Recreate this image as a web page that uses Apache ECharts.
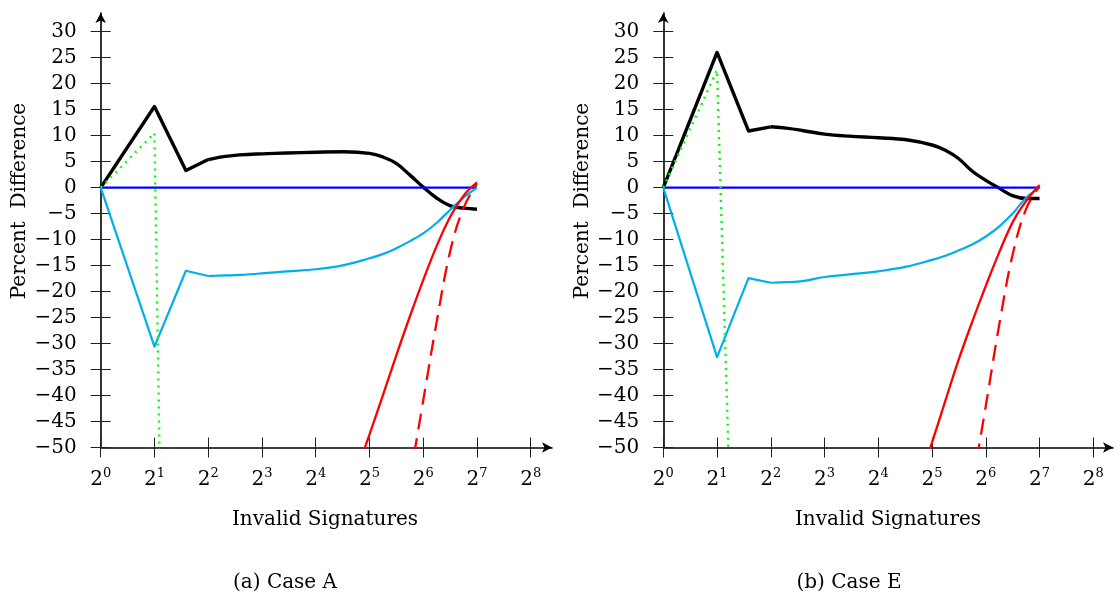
<!DOCTYPE html>
<html><head><meta charset="utf-8">
<script src="https://cdn.jsdelivr.net/npm/echarts@6/dist/echarts.min.js"></script>
<style>html,body{margin:0;padding:0;background:#fff}#c{width:1120px;height:601px}</style>
</head><body><div id="c"></div>
<script>
// ---------- data ----------
const xTickExponents = [0, 1, 2, 3, 4, 5, 6, 7, 8];
const yMin = -50, yMax = 30, yStep = 5;
const panelTitles = ['(a) Case A', '(b) Case E'];
const xLabel = 'Invalid Signatures';
const yLabel = 'Percent  Difference';

// Case A
const caseA_black = [[1,0],[2,15.6],[3,3.3],[4,5.4],[5,6.0],[6,6.3],[8,6.5],[11,6.65],[16,6.8],[23,6.9],[32,6.6],[38,5.9],[45,4.7],[54,2.4],[64,0.1],[76,-2.0],[91,-3.5],[108,-3.95],[128,-4.15]];
const caseA_cyan  = [[1,0],[2,-30.6],[3,-16.0],[4,-17.0],[5,-16.9],[6,-16.8],[8,-16.5],[11,-16.1],[16,-15.7],[23,-14.9],[32,-13.6],[38,-12.8],[45,-11.7],[54,-10.3],[64,-8.8],[76,-6.8],[91,-4.2],[108,-1.9],[128,0]];
const caseA_blue  = [[1,0],[128,0]];
const caseA_green = [[1,0],[2,10.5],[3,-370]];
const caseA_red   = [[28,-53.2],[32,-47.5],[38,-40],[45,-32.5],[54,-24.7],[64,-17.8],[76,-11.3],[91,-5.5],[108,-1.5],[128,1.0]];
const caseA_redDash = [[54,-56],[64,-41],[76,-26],[91,-12],[108,-3.8],[128,0.8]];

// Case E
const caseE_black = [[1,0],[2,26.0],[3,10.9],[4,11.7],[5,11.4],[6,11.0],[8,10.3],[11,9.9],[16,9.6],[23,9.2],[32,8.2],[38,7.2],[45,5.6],[54,3.1],[64,1.4],[76,-0.1],[91,-1.6],[108,-2.1],[128,-2.1]];
const caseE_cyan  = [[1,0],[2,-32.6],[3,-17.4],[4,-18.3],[5,-18.2],[6,-18.0],[8,-17.2],[11,-16.7],[16,-16.1],[23,-15.2],[32,-13.9],[38,-13.1],[45,-12.1],[54,-10.9],[64,-9.4],[76,-7.5],[91,-4.9],[108,-1.9],[128,0]];
const caseE_blue  = [[1,0],[128,0]];
const caseE_green = [[1,0],[2,22.6],[3,-180]];
const caseE_red   = [[28,-54.9],[32,-49],[38,-41],[45,-33.2],[54,-25.6],[64,-18.9],[76,-12.5],[91,-6.5],[108,-2.5],[128,0.5]];
const caseE_redDash = [[54,-57],[64,-42],[76,-26.5],[91,-12.5],[108,-4],[128,0.3]];

const panels = [
  {black: caseA_black, cyan: caseA_cyan, blue: caseA_blue, green: caseA_green, red: caseA_red, redDash: caseA_redDash},
  {black: caseE_black, cyan: caseE_cyan, blue: caseE_blue, green: caseE_green, red: caseE_red, redDash: caseE_redDash}
];
// index of the last sharp corner (x = 4); after it the curves are smooth
const cornerEnd = 3;

// ---------- layout ----------
const W = 1120, H = 601;
const FONT = 'DejaVu Serif';
const plotTop = 31.7, plotBottom = 447.5;
const panelLeft = [100.7, 663.3];
const panelWidth = 430;
const arrowRight = [552, 1113];
const arrowTop = 13;

const xMin = Math.pow(2, xTickExponents[0]);
const xMax = Math.pow(2, xTickExponents[xTickExponents.length - 1]);

const grid = [], xAxis = [], yAxis = [], series = [], graphic = [];

function yFmt(v) { return v < 0 ? '\u2212' + (-v) : String(v); }

panels.forEach((p, i) => {
  const gA = grid.length;
  grid.push({left: panelLeft[i], width: panelWidth, top: plotTop, height: plotBottom - plotTop, containLabel: false});
  const gB = grid.length;
  grid.push({left: panelLeft[i], width: arrowRight[i] - panelLeft[i], top: arrowTop, height: plotBottom - arrowTop, containLabel: false});

  const xBase = {type: 'log', logBase: 2, min: xMin, max: xMax, gridIndex: gA, position: 'bottom',
    axisLine: {show: false, onZero: false}, splitLine: {show: false}, minorTick: {show: false}};
  const xMain = xAxis.length;
  xAxis.push(Object.assign({}, xBase, {
    axisTick: {show: true, inside: false, length: 10, lineStyle: {color: '#222', width: 1}},
    axisLabel: {show: true, margin: 20, fontFamily: FONT, color: '#000',
      formatter: v => '{b|2}{s|' + Math.round(Math.log2(v)) + '}',
      rich: {b: {fontFamily: FONT, fontSize: 20, color: '#000'},
             s: {fontFamily: FONT, fontSize: 13, color: '#000', padding: [0, 0, 12, 0]}}}
  }));
  xAxis.push(Object.assign({}, xBase, {
    axisTick: {show: true, inside: true, length: 10, lineStyle: {color: '#222', width: 1}},
    axisLabel: {show: false}
  }));
  const yBase = {type: 'value', min: yMin, max: yMax, interval: yStep, gridIndex: gA, position: 'left',
    axisLine: {show: false, onZero: false}, splitLine: {show: false}};
  const yMain = yAxis.length;
  yAxis.push(Object.assign({}, yBase, {
    axisTick: {show: true, inside: false, length: 10, lineStyle: {color: '#222', width: 1}},
    axisLabel: {show: true, margin: 24, fontFamily: FONT, fontSize: 20, color: '#000', formatter: yFmt}
  }));
  yAxis.push(Object.assign({}, yBase, {
    axisTick: {show: true, inside: true, length: 10, lineStyle: {color: '#222', width: 1}},
    axisLabel: {show: false}
  }));
  // arrow axes
  xAxis.push({type: 'value', min: 0, max: 1, gridIndex: gB, position: 'bottom',
    axisLine: {show: true, onZero: false, symbol: ['none', 'arrow'], symbolSize: [8, 10], lineStyle: {color: '#000', width: 1.6}},
    axisTick: {show: false}, axisLabel: {show: false}, splitLine: {show: false}});
  yAxis.push({type: 'value', min: 0, max: 1, gridIndex: gB, position: 'left',
    axisLine: {show: true, onZero: false, symbol: ['none', 'arrow'], symbolSize: [8, 10], lineStyle: {color: '#000', width: 1.6}},
    axisTick: {show: false}, axisLabel: {show: false}, splitLine: {show: false}});

  const common = {type: 'line', xAxisIndex: xMain, yAxisIndex: yMain, showSymbol: false, symbol: 'none',
    clip: true, animation: false, silent: true};
  const blackStyle = {color: '#000000', width: 3.4, join: 'round'};
  const cyanStyle = {color: '#00aeef', width: 2.2, join: 'round'};
  series.push(Object.assign({}, common, {data: p.black.slice(0, cornerEnd + 1), lineStyle: blackStyle, z: 2}));
  series.push(Object.assign({}, common, {data: p.black.slice(cornerEnd), smooth: 0.4, lineStyle: blackStyle, z: 2}));
  series.push(Object.assign({}, common, {data: p.blue, lineStyle: {color: '#0000ff', width: 2.4}, z: 3}));
  series.push(Object.assign({}, common, {data: p.cyan.slice(0, cornerEnd + 1), lineStyle: cyanStyle, z: 4}));
  series.push(Object.assign({}, common, {data: p.cyan.slice(cornerEnd), smooth: 0.4, lineStyle: cyanStyle, z: 4}));
  series.push(Object.assign({}, common, {data: p.green, lineStyle: {color: '#00ff00', width: 2.4, type: [2, 5]}, z: 5}));
  series.push(Object.assign({}, common, {data: p.red, smooth: 0.4, lineStyle: {color: '#ff0000', width: 2.3}, z: 6}));
  series.push(Object.assign({}, common, {data: p.redDash, smooth: 0.4, lineStyle: {color: '#ff0000', width: 2.3, type: [16, 9]}, z: 6}));
});

// texts
const yLabelX = [20, 583];
const xLabelX = [325, 888];
const captionX = [285, 849];
[0, 1].forEach(i => {
  graphic.push({type: 'text', x: yLabelX[i], y: 201, rotation: Math.PI / 2,
    style: {text: yLabel, font: '20px "' + FONT + '"', fill: '#000', align: 'center', verticalAlign: 'middle'}});
  graphic.push({type: 'text', x: xLabelX[i], y: 520,
    style: {text: xLabel, font: '20px "' + FONT + '"', fill: '#000', align: 'center', verticalAlign: 'middle'}});
  graphic.push({type: 'text', x: captionX[i], y: 583,
    style: {text: panelTitles[i], font: '20px "' + FONT + '"', fill: '#000', align: 'center', verticalAlign: 'middle'}});
});

const chart = echarts.init(document.getElementById('c'), null, {renderer: 'canvas', width: W, height: H});
chart.setOption({animation: false, backgroundColor: '#fff', grid, xAxis, yAxis, series, graphic});
</script></body></html>
